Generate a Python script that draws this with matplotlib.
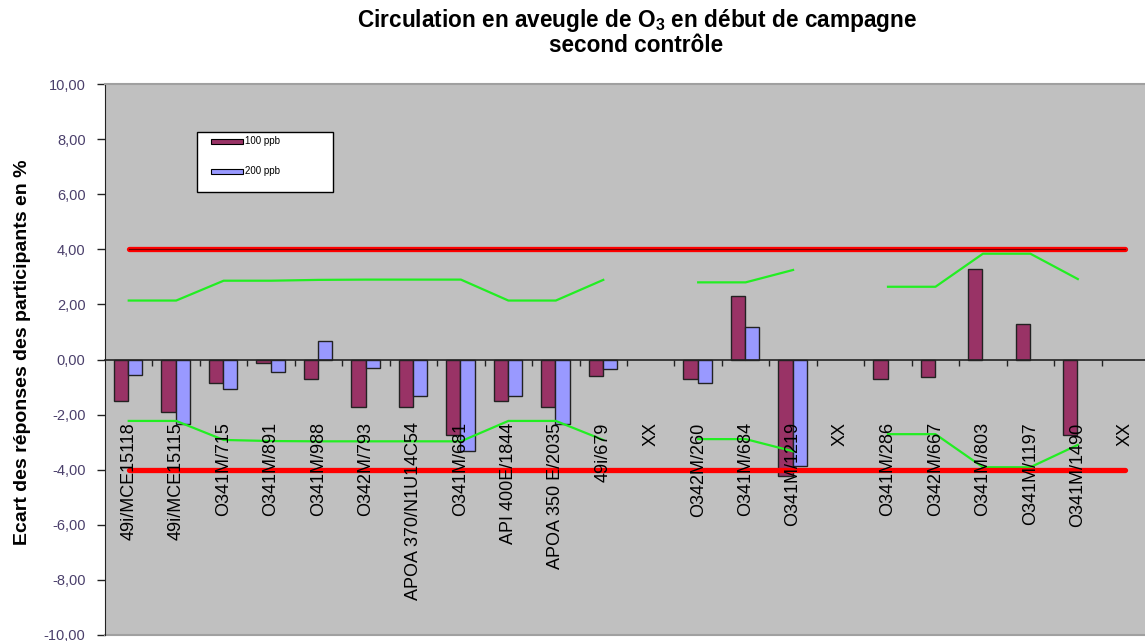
import numpy as np
import matplotlib
matplotlib.use("Agg")
import matplotlib.pyplot as plt
from matplotlib.patches import Rectangle

plt.rcParams["font.family"] = ["Liberation Sans", "DejaVu Sans"]
plt.rcParams["mathtext.fontset"] = "custom"
plt.rcParams["mathtext.rm"] = "Liberation Sans"
plt.rcParams["mathtext.bf"] = "Liberation Sans:bold"

# =========================
# données
# =========================
categories = ["49i/MCE15118", "49i/MCE15115", "O341M/715", "O341M/891", "O341M/988",
              "O342M/793", "APOA 370/N1U14C54", "O341M/681", "API 400E/1844",
              "APOA 350 E/2035", "49i/679", "XX", "O342M/260", "O341M/684",
              "O341M/1219", "XX", "O341M/286", "O342M/667", "O341M/803",
              "O341M/1197", "O341M/1490", "XX"]

nan = np.nan
ecart_100 = [-1.50, -1.91, -0.84, -0.12, -0.70, -1.73, -1.73, -2.75, -1.50, -1.73,
             -0.61, nan, -0.71, 2.30, -4.23, nan, -0.71, -0.63, 3.29, 1.30, -2.75, nan]
ecart_200 = [-0.57, -2.33, -1.07, -0.44, 0.66, -0.30, -1.33, -3.33, -1.33, -2.33,
             -0.35, nan, -0.84, 1.19, -3.86, nan, nan, nan, nan, nan, nan, nan]

limite_haute = [2.14, 2.14, 2.86, 2.86, 2.89, 2.90, 2.90, 2.90, 2.14, 2.14,
                2.89, nan, 2.80, 2.80, 3.25, nan, 2.64, 2.64, 3.84, 3.84, 2.92, nan]
limite_basse = [-2.23, -2.23, -2.92, -2.96, -2.97, -2.97, -2.97, -2.97, -2.23, -2.23,
                -2.92, nan, -2.89, -2.89, -3.33, nan, -2.71, -2.71, -3.91, -3.91, -3.10, nan]

tolerance = [4.0] * len(categories)

yticks = np.arange(-10, 11, 2)

# =========================
# figure
# =========================
W, H = 1145, 641
fig = plt.figure(figsize=(W / 100, H / 100), dpi=100)

def fx(px):
    return px / W

def fy(py):
    return 1 - py / H

ax = fig.add_axes([fx(105), fy(635), fx(1149) - fx(105), fy(84) - fy(635)])
ax.set_facecolor("#C0C0C0")

x = np.arange(len(categories))
ax.bar(x - 0.16, ecart_100, width=0.30, color="#993366", edgecolor="#222222", linewidth=1.0, zorder=3)
ax.bar(x + 0.14, ecart_200, width=0.30, color="#9999FF", edgecolor="#222222", linewidth=1.0, zorder=3)

ax.plot(x, limite_haute, color="#22EE22", lw=1.6, zorder=4)
ax.plot(x, limite_basse, color="#22EE22", lw=1.6, zorder=4)

ax.plot(x, tolerance, color="#FF0000", lw=3.8, zorder=5, solid_capstyle="round")
ax.plot(x, tolerance, color="#700000", lw=0.9, zorder=6)
ax.plot(x, [-v for v in tolerance], color="#FF0000", lw=3.8, zorder=5, solid_capstyle="round")

ax.set_xlim(-0.5, len(categories) - 0.5)
ax.set_ylim(-10, 10)

# axe des x sur le zéro
ax.spines["bottom"].set_position(("data", 0))
ax.spines["bottom"].set_color("#222222")
ax.spines["bottom"].set_linewidth(1.2)
ax.spines["bottom"].set_zorder(4)
ax.spines["left"].set_color("#222222")
ax.spines["top"].set_color("#A0A0A0")
ax.spines["top"].set_linewidth(1.5)
ax.spines["right"].set_visible(False)
ax.axhline(-10, color="#A0A0A0", lw=1.5, clip_on=False)

ax.set_xticks(np.arange(len(categories)) + 0.5)
ax.set_xticklabels([])
ax.tick_params(axis="x", direction="out", length=4, width=1, color="#222222")

ax.set_yticks(yticks)
ax.set_yticklabels([f"{v:.2f}".replace(".", ",") for v in yticks],
                   fontsize=10.5, color="#4A3F6B")
ax.tick_params(axis="y", direction="out", length=6, width=1, color="#222222", pad=8)

for i, lab in enumerate(categories):
    ax.text(i, -2.28, lab, rotation=90, ha="center", va="top", fontsize=13,
            color="black", zorder=7)

fig.text(fx(23), fy(352), "Ecart des réponses des participants en %", rotation=90,
         ha="center", va="center", fontsize=14, fontweight="bold")

fig.text(fx(637), fy(20), "Circulation en aveugle de O$_{\\mathbf{3}}$ en début de campagne",
         ha="center", va="center", fontsize=16.3, fontweight="bold")
fig.text(fx(636), fy(46), "second contrôle", ha="center", va="center",
         fontsize=16.3, fontweight="bold")

# légende
fig.patches.append(Rectangle((fx(197), fy(192)), fx(333) - fx(197), fy(132) - fy(192),
                             transform=fig.transFigure, facecolor="white",
                             edgecolor="black", lw=1.0, zorder=10))
fig.patches.append(Rectangle((fx(211), fy(144)), fx(243) - fx(211), fy(139) - fy(144),
                             transform=fig.transFigure, facecolor="#993366",
                             edgecolor="black", lw=0.8, zorder=11))
fig.patches.append(Rectangle((fx(211), fy(174)), fx(243) - fx(211), fy(169) - fy(174),
                             transform=fig.transFigure, facecolor="#9999FF",
                             edgecolor="black", lw=0.8, zorder=11))
fig.text(fx(245), fy(141), "100 ppb", fontsize=7, va="center", ha="left", zorder=12)
fig.text(fx(245), fy(171), "200 ppb", fontsize=7, va="center", ha="left", zorder=12)

fig.savefig("out.png", dpi=100, facecolor="white")
